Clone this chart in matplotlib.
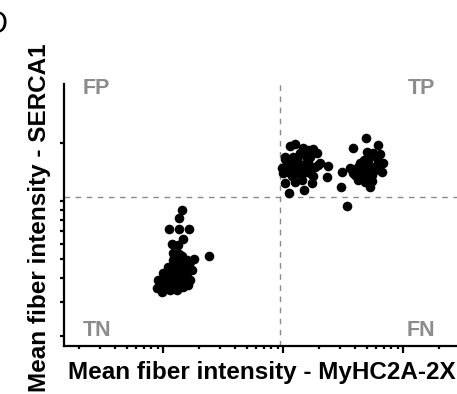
import numpy as np
import matplotlib
matplotlib.use("Agg")
import matplotlib.pyplot as plt
from matplotlib.ticker import FixedLocator, NullFormatter

plt.rcParams['font.family'] = ['Liberation Sans', 'DejaVu Sans']

# log10 mean fiber intensities
tn_log_x = [0.156, 0.136, 0.053, 0.136, 0.219, 0.169, 0.075, 0.128, 0.381, 0.086,
            0.136, 0.258, 0.225, -0.003, -0.039, -0.053, -0.011, 0.031, 0.073, 0.100,
            0.114, 0.142, 0.169, 0.198, 0.225, 0.044, 0.086, 0.142, 0.183, 0.211,
            0.058, 0.017, -0.025, 0.114, 0.156, 0.198, 0.239, 0.073, 0.128, 0.086,
            0.031, 0.169, 0.086, 0.198, 0.003, 0.125, 0.175, 0.050, 0.100, 0.200,
            0.158, 0.108, 0.060, 0.150, 0.190, 0.120]
tn_log_y = [-0.047, -0.090, -0.145, -0.145, -0.145, -0.199, -0.224, -0.228, -0.285, -0.271,
            -0.276, -0.302, -0.315, -0.375, -0.409, -0.449, -0.470, -0.435, -0.418, -0.401,
            -0.461, -0.426, -0.392, -0.366, -0.409, -0.340, -0.332, -0.349, -0.340, -0.435,
            -0.461, -0.401, -0.444, -0.383, -0.315, -0.332, -0.358, -0.375, -0.306, -0.306,
            -0.383, -0.444, -0.435, -0.392, -0.418, -0.358, -0.415, -0.358, -0.446, -0.306,
            -0.285, -0.295, -0.395, -0.370, -0.395, -0.330]

tp1_log_x = [1.058, 1.100, 1.253, 1.281, 1.017, 1.058, 1.156, 1.197, 1.308, 1.378,
             1.003, 1.044, 1.100, 1.142, 1.211, 1.267, 1.017, 1.100, 1.156, 1.239,
             1.053, 1.175, 1.369, 1.197, 1.086, 1.128, 1.225, 1.058, 1.169, 1.017,
             1.142, 1.211, 1.100, 1.058, 1.128, 1.183, 1.225, 1.294, 1.169, 1.211,
             1.031, 1.114, 1.225, 0.989, 1.075, 1.250]
tp1_log_y = [0.287, 0.295, 0.269, 0.250, 0.216, 0.204, 0.244, 0.221, 0.195, 0.183,
             0.147, 0.152, 0.169, 0.144, 0.169, 0.178, 0.095, 0.100, 0.109, 0.092,
             0.043, 0.057, 0.123, 0.195, 0.230, 0.198, 0.144, 0.178, 0.187, 0.230,
             0.247, 0.204, 0.187, 0.169, 0.144, 0.152, 0.161, 0.187, 0.273, 0.264,
             0.195, 0.212, 0.230, 0.169, 0.130, 0.130]

tp2_log_x = [1.689, 1.586, 1.789, 1.697, 1.808, 1.836, 1.822, 1.725, 1.489, 1.481,
             1.536, 1.586, 1.628, 1.656, 1.683, 1.739, 1.753, 1.711, 1.781, 1.642,
             1.614, 1.669, 1.697, 1.767, 1.725, 1.600, 1.753, 1.794, 1.658, 1.700,
             1.742, 1.633, 1.675, 1.783, 1.558, 1.717, 1.625]
tp2_log_y = [0.325, 0.273, 0.290, 0.255, 0.244, 0.195, 0.152, 0.074, 0.152, 0.074,
             -0.026, 0.144, 0.178, 0.126, 0.100, 0.135, 0.178, 0.212, 0.221, 0.195,
             0.161, 0.161, 0.187, 0.161, 0.109, 0.135, 0.247, 0.195, 0.119, 0.130,
             0.104, 0.150, 0.212, 0.171, 0.171, 0.171, 0.109]

x_threshold = 9.5
y_threshold = 1.05
quadrant_labels = ["FP", "TP", "TN", "FN"]

W, H = 457, 394
fig = plt.figure(figsize=(W / 100, H / 100), dpi=100)
ax = fig.add_axes([64 / W, 48 / H, (W - 64) / W, (346 - 84) / H])

lx = np.array(tn_log_x + tp1_log_x + tp2_log_x)
ly = np.array(tn_log_y + tp1_log_y + tp2_log_y)
ax.scatter(10 ** lx, 10 ** ly, s=48, color='black', linewidths=0, zorder=3)

ax.set_xscale('log')
ax.set_yscale('log')
ax.set_xlim(10 ** -0.825, 10 ** 2.45)
ax.set_ylim(10 ** -0.751, 10 ** 0.606)

ax.axvline(x_threshold, color='#8a8a8a', lw=1.0, ls=(0, (4, 4)), zorder=1)
ax.axhline(y_threshold, color='#8a8a8a', lw=1.0, ls=(0, (4, 4)), zorder=1)

for s in ['top', 'right']:
    ax.spines[s].set_visible(False)
for s in ['left', 'bottom']:
    ax.spines[s].set_linewidth(1.6)

ax.xaxis.set_major_locator(FixedLocator([1, 10, 100]))
ax.xaxis.set_minor_locator(FixedLocator(
    [m * 10.0 ** d for d in (-1, 0, 1, 2) for m in range(2, 10)]))
ax.yaxis.set_major_locator(FixedLocator([0.2, 0.3, 0.4, 0.5, 0.6, 0.7, 0.8, 0.9, 1, 2]))
ax.yaxis.set_minor_locator(FixedLocator([]))
ax.xaxis.set_major_formatter(NullFormatter())
ax.xaxis.set_minor_formatter(NullFormatter())
ax.yaxis.set_major_formatter(NullFormatter())
ax.yaxis.set_minor_formatter(NullFormatter())
ax.tick_params(axis='x', which='major', length=5, width=1.6, direction='out')
ax.tick_params(axis='x', which='minor', length=2.5, width=1.6, direction='out')
ax.tick_params(axis='y', which='major', length=3, width=1.6, direction='out')

qfont = dict(color='#8c8c8c', fontsize=15.5, fontweight='bold')
fig.text(96 / W, 1 - 88 / H, quadrant_labels[0], ha='center', va='center', **qfont)
fig.text(421 / W, 1 - 88 / H, quadrant_labels[1], ha='center', va='center', **qfont)
fig.text(97 / W, 1 - 330 / H, quadrant_labels[2], ha='center', va='center', **qfont)
fig.text(421 / W, 1 - 330 / H, quadrant_labels[3], ha='center', va='center', **qfont)

fig.text(261.5 / W, 1 - 373 / H, "Mean fiber intensity - MyHC2A-2X",
         ha='center', va='center', fontsize=17.5, fontweight='bold')
fig.text(40 / W, 1 - 217.5 / H, "Mean fiber intensity - SERCA1", rotation=90,
         ha='center', va='center', fontsize=17.5, fontweight='bold')
fig.text(8 / W, 1 - 10 / H, "D", ha='right', va='top', fontsize=22)

fig.savefig("out.png", dpi=100)
